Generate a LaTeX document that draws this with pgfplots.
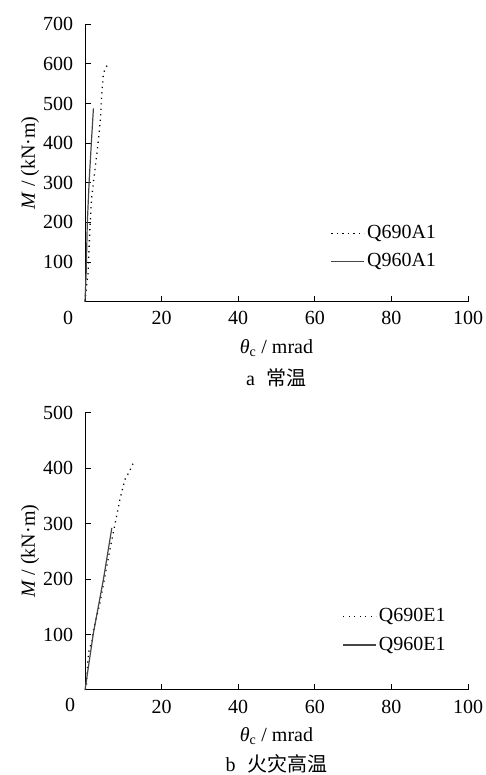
\documentclass[border=0pt]{standalone}
\usepackage{pgfplots}
\pgfplotsset{compat=1.18}
\usepackage{fontspec}
\setmainfont{Liberation Serif}
\newfontfamily\cjk{Noto Sans CJK SC}
\definecolor{solidgray}{RGB}{70,70,70}
\pgfplotsset{
  myaxis/.style={
    scale only axis,
    width=383pt, height=277.4pt,
    xmin=0, xmax=100,
    axis x line*=bottom, axis y line*=left,
    axis line style={-, line width=1pt, black},
    tick align=inside, major tick length=6pt,
    tick style={line width=1pt, black},
    xtick={20,40,60,80,100},
    /pgf/number format/assume math mode=true,
    xticklabel style={yshift=-3pt},
    yticklabel style={xshift=-5pt},
    xlabel={\textit{θ}\textsubscript{c} / mrad},
    ylabel={\textit{M} / (kN·m)},
    xlabel style={at={(axis description cs:0.5,0)}, anchor=center, yshift=-46pt},
    ylabel style={at={([xshift=-55pt]axis description cs:0,0.5)}, anchor=center},
    legend cell align=left,
    legend image code/.code={\draw[##1] (0pt,0pt) -- (33pt,0pt);},
    clip=false,
  },
  dotstyle/.style={black, line width=1.3pt, dash pattern=on 1.2pt off 4.3pt},
  solidstyle/.style={solidgray, line width=1.2pt},
}
\begin{document}
\fontsize{20}{24}\selectfont
\begin{tikzpicture}
\path[use as bounding box] (0,0) rectangle (485pt,775pt);
% top
\begin{axis}[myaxis, at={(85pt,473.3pt)}, anchor=south west,
  ymin=0, ymax=700, ytick={100,200,...,700},
  legend style={at={(axis description cs:0.93,0.195)}, anchor=east, draw=none, fill=none, row sep=8pt}]
\addplot[dotstyle] coordinates {(0,0) (0.4,40) (0.8,72) (1.0,122) (1.3,189) (1.7,257) (2.2,303) (2.4,316) (3.5,408) (4.1,467) (4.3,514) (4.8,577) (5.9,599)};
\addlegendentry{Q690A1}
\addplot[solidstyle] coordinates {(0,0) (0.3,72) (0.6,198) (1.1,307) (1.7,408) (2.2,488)};
\addlegendentry{Q960A1}
\node at (axis cs:0,0) [anchor=center, xshift=-17pt, yshift=-16.3pt] {0};
\node at (axis description cs:0.5,0) [anchor=center, yshift=-76pt] {a\hspace{0.6em}{\cjk 常温}};
\end{axis}
% bottom
\begin{axis}[myaxis, at={(85pt,85pt)}, anchor=south west,
  ymin=0, ymax=500, ytick={100,200,...,500},
  legend style={at={(axis description cs:0.955,0.213)}, anchor=east, draw=none, fill=none, row sep=8pt}]
\addplot[dotstyle] coordinates {(0.2,0) (0.4,13) (0.9,67) (1.4,79) (1.8,88) (2.2,108) (3.9,157) (5.2,205) (6.5,253) (7.8,298) (9.1,343) (10.4,379) (11.6,394) (12.8,412)};
\addlegendentry{Q690E1}
\addplot[solidstyle] coordinates {(0,0) (2.2,103) (4.8,199) (7.0,292)};
\addlegendentry{Q960E1}
\node at (axis cs:0,0) [anchor=center, xshift=-15pt, yshift=-15pt] {0};
\node at (axis description cs:0.5,0) [anchor=center, yshift=-74pt] {b\hspace{0.6em}{\cjk 火灾高温}};
\end{axis}
\end{tikzpicture}
\end{document}
